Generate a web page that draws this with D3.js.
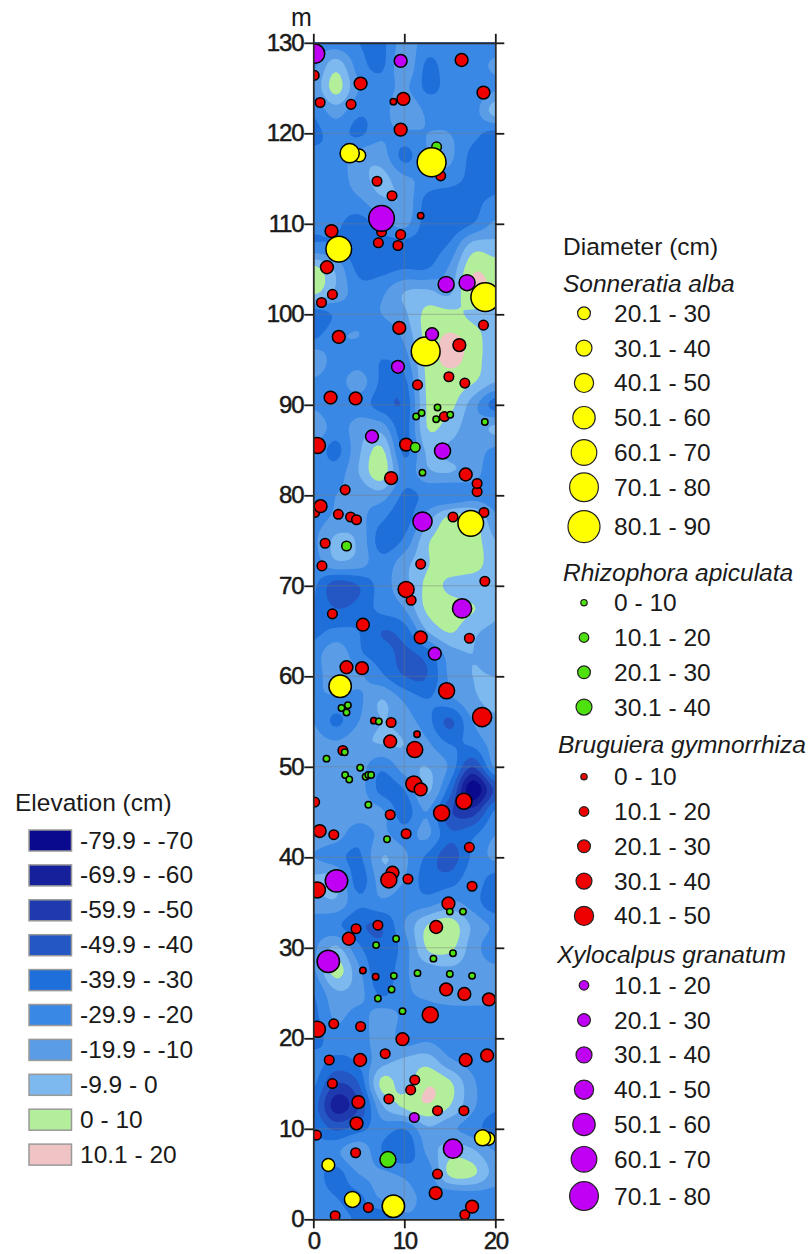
<!DOCTYPE html>
<html>
<head>
<meta charset="utf-8">
<script src="https://cdn.jsdelivr.net/npm/d3@7"></script>
<style>
  html, body { margin: 0; background: #fff; }
  text { font-family: "Liberation Sans", Arial, sans-serif; fill: #1a1a1a; }
</style>
</head>
<body>
<div id="chart"></div>
<script>
// elevation (cm): rows run from y=130 down to y=0 every 2.5 m,
// columns from x=0 to x=20 every 2.5 m
const elevationRows = [
  [-25,-25,-30,-33,-15,-25,-25,-25,-25],
  [-22, -4,-25,-32,-12,-32,-25,-25,-18],
  [-18,  4,-20,-25,-18,-32,-27,-28,-22],
  [-28,-15,-28,-25,-12,-22,-25,-25, -5],
  [-33,-26,-32,-22,-22,-20,-20,-27,-33],
  [-27,-27,-15,-15,-33,-20,-18,-33,-33],
  [-25,-25,-15, -7,-18,-22,-25,-33,-33],
  [-25,-25,-22,-12,-12,-34,-38,-33,-28],
  [-28,-28,-35,-25,-17,-35,-37,-30,-18],
  [-28,-30,-38,-35,-35,-34,-28, -5, -6],
  [  4,-12,-33,-33,-30,-30,-18,  8,  5],
  [  4,-12,-25,-22,-10, -8,-12, 12,  6],
  [-38,-28,-22,-20,-12,  3,  3, -2, -5],
  [-32,-22,-20,-27,-18,  4, 11,  6, -8],
  [-12,-25,-25,-30,-25,  3, 12,  6, -8],
  [-22,-25,-15,-32,-33,  2,  6,  1,-10],
  [-22,-30,-25,-35,-38,  1,  3,-15,-35],
  [-10,-25,-15,-15,-35,  0, -5,-15, -8],
  [-22,-33,-12,  2,-33, -8,-12,-15,-22],
  [-22,-25,-10,  6,-25,-12,-10,-15,-28],
  [-30,-20,-18,-15,-32,-28,-30,-25,-26],
  [-25,-18,-17,-28,-35,-15,  3,  3,-18],
  [-22, -8,-12,-35,-28, -2,  5,  6,-10],
  [-25,-12,-15,-26,-14, -1,  5,  6, -7],
  [-28,-46,-40,-25,-14,  2, -2, -7, -7],
  [-30,-40,-36,-27,-20,  2,  4,  1, -8],
  [-33,-28,-30,-40,-35,-10,  1, -8,-12],
  [-25,-13,-28,-35,-42,-35,-15,-10,-16],
  [-25,-13,-18,-28,-40,-40,-18,-10,-10],
  [-20,-22,-22,-10,-22,-30,-22,-12, -7],
  [-20,-32,-20,-10,-15,-26,-42,-20,-12],
  [-15,-18,-12,-10,-10,-18,-30,-28,-15],
  [-15,-13,-15,-28,-15,-10,-22,-50,-18],
  [-15,-12,-15,-33,-30, -8,-35,-78,-48],
  [-15,-14,-15,-18,-35,-20,-48,-55,-28],
  [-15,-16,-26,-18,-25,-18,-38,-32,-20],
  [-20,-26,-32,-10,-18,-32,-45,-28,-18],
  [ -8, -8,-35,-15,-20,-35,-35,-25,-35],
  [-15,-12,-28,-22,-25,-25,-18,-25,-38],
  [-24,-28,-38,-40,-20,  0,  6,-12,-22],
  [-22, -8,-28,-38,-25,  1,  3,-15,-26],
  [-22,  4,-18,-38,-22,-15,-12,-15,-18],
  [-30,-12,-16,-32,-22,-18,-14,-15,-16],
  [-33,-18,-24,-15,-22,-24,-25,-24,-24],
  [-35,-24,-28,-12,-25,-22,-27,-26,-26],
  [-25,-33,-28,-14, -8, -4,-18,-24,-26],
  [-28,-50,-40,  3, -5,  9,  2,-18,-26],
  [-35,-65,-50,-12,  2,  9,  0,-18,-28],
  [-30,-42,-34,-25,-30,-12,-18,-25,-36],
  [-28,-22,-12,-30,-38,-18, -4, -8,-20],
  [-25,-34,-20,-18,-22,-26,  2,  2,-14],
  [-25,-30,-32,-18,-16,-24,-28,-26,-25],
  [-24,-26,-32,-38,-22,-24,-26,-25,-25],
];

const elevationLow = [-80, -70, -60, -50, -40, -30, -20, -10, 0, 10];
const elevationLabels = ['-79.9 - -70', '-69.9 - -60', '-59.9 - -50', '-49.9 - -40', '-39.9 - -30',
  '-29.9 - -20', '-19.9 - -10', '-9.9 - 0', '0 - 10', '10.1 - 20'];
const elevationColors = ['#0a0a8f', '#16209b', '#1f3aae', '#2557c4', '#1f6fdb',
  '#3a88e6', '#5a9de6', '#7db8ee', '#b3ee9b', '#f0c4c4'];

// trees: [x (m), y (m), diameter class midpoint (cm)]
const bruguiera = [
  [16.3,128.1,25],[0.1,126.4,15],[5.2,125.5,25],[0.75,123.4,15],[4.15,123.2,15],[8.8,123.5,5],[9.9,123.8,25],
  [18.7,124.5,25],[9.6,120.4,25],[14.0,115.3,15],[7.0,114.7,15],[8.65,113.1,15],[11.8,110.9,5],[2.0,109.2,25],
  [7.5,109.1,15],[9.6,108.8,15],[7.15,107.9,15],[9.3,107.6,15],[1.5,105.2,25],[2.1,102.2,15],[0.9,101.3,15],
  [9.45,98.5,25],[2.8,97.5,25],[18.7,98.8,15],[16.05,96.6,25],[14.9,93.1,15],[11.45,92.2,15],[16.65,92.4,15],
  [1.9,90.8,25],[4.65,90.7,25],[14.4,88.7,15],[0.45,85.5,35],[10.2,85.6,25],[16.75,82.3,25],[18.0,80.4,15],
  [18.0,81.3,15],[8.55,81.9,25],[3.5,80.6,15],[0.15,78.1,15],[0.8,78.8,25],[2.75,77.9,15],[4.1,77.6,15],
  [4.75,77.3,15],[15.35,77.6,15],[18.75,78.1,15],[1.3,74.7,15],[0.95,72.2,15],[11.8,72.4,15],[18.85,70.5,15],
  [10.75,68.4,15],[10.2,69.6,35],[2.1,66.9,15],[5.45,65.7,25],[11.8,64.3,25],[17.15,64.2,15],[3.65,61.0,25],
  [5.35,60.9,25],[14.65,58.4,35],[18.55,55.5,45],[6.65,55.1,5],[8.55,54.9,15],[11.4,53.6,5],[8.45,52.8,25],
  [11.15,51.9,35],[3.25,51.8,15],[11.05,48.1,35],[11.8,47.5,25],[16.55,46.2,35],[0.15,46.1,15],[8.45,44.7,15],
  [14.1,44.9,35],[0.7,42.9,25],[2.25,42.5,15],[10.2,42.6,15],[17.15,41.1,15],[8.7,38.3,25],[8.3,37.5,35],
  [10.4,37.6,15],[0.45,36.4,35],[17.45,36.8,15],[14.85,34.9,25],[13.5,32.3,25],[7.1,32.5,15],[4.7,32.1,15],
  [3.9,31.0,25],[5.45,27.5,5],[6.85,26.8,5],[14.6,25.4,25],[16.6,24.9,25],[19.3,24.3,25],[12.85,22.6,35],
  [0.45,21.0,35],[2.25,21.6,15],[5.2,21.3,15],[9.8,19.9,25],[7.9,18.3,15],[1.75,17.6,15],[5.15,17.6,25],
  [16.75,17.6,25],[19.1,18.1,25],[2.1,15.0,15],[11.15,15.4,15],[10.7,14.3,15],[4.95,12.95,25],[8.3,13.3,15],
  [13.65,12.0,15],[16.55,12.0,15],[4.75,10.6,25],[0.35,9.3,15],[4.65,7.35,15],[13.65,5.0,15],[13.45,2.9,25],
  [6.05,1.3,15],[16.65,0.5,15],[17.45,1.4,25],[2.4,0.4,15],
];
const rhizophora = [
  [13.55,118.5,15],[11.2,85.3,15],[12,82.5,5],[18.85,88.1,5],[11.3,88.7,5],[11.9,89.1,5],[13.65,89.7,5],
  [13.5,88.4,5],[15.05,88.9,5],[3.65,74.4,15],[3.8,56.8,5],[3.1,56.5,5],[3.65,56.0,5],[7.2,55.0,5],[3.45,51.6,5],
  [1.45,50.9,5],[5.15,49.9,5],[3.5,49.1,5],[3.95,48.6,5],[5.75,48.9,5],[6.05,49.1,5],[6.35,49.1,5],[6.05,45.8,5],
  [8.1,42.0,5],[15,34,5],[16.45,34,5],[9.1,31,5],[6.9,30.3,5],[15.35,29.4,5],[13.2,28.8,5],[8.85,26.9,5],
  [11.45,27.2,5],[15.0,27.1,5],[17.45,26.9,5],[8.6,25.4,5],[7.1,24.4,5],[9.8,23.0,5],[8.2,6.6,35],
];
const xylocalpus = [
  [0.2,128.8,45],[9.6,128,25],[7.5,110.6,65],[14.6,103.3,35],[16.9,103.5,35],[9.3,94.2,25],[6.45,86.5,25],
  [14.2,84.9,35],[12.0,77.1,45],[16.35,67.5,45],[13.35,62.5,25],[2.55,37.4,55],[1.65,28.5,55],[11.1,11.25,15],
  [15.35,7.8,45],
];
const sonneratia = [
  [5.05,117.55,25],[4.0,117.8,45],[13.0,116.8,75],[2.8,107.2,65],[18.9,101.9,75],[12.35,95.9,75],[17.3,76.9,65],
  [2.95,58.9,55],[19.25,8.9,25],[18.6,9.0,35],[1.65,6.0,25],[4.3,2.2,35],[8.8,1.45,55],
];
// this one sits on top of the big yellow tree next to it
const xylocalpusOnTop = [[13.05,97.8,25]];

const sonneratiaClasses = ['20.1 - 30', '30.1 - 40', '40.1 - 50', '50.1 - 60', '60.1 - 70', '70.1 - 80', '80.1 - 90'];
const rhizophoraClasses = ['0 - 10', '10.1 - 20', '20.1 - 30', '30.1 - 40'];
const bruguieraClasses = ['0 - 10', '10.1 - 20', '20.1 - 30', '30.1 - 40', '40.1 - 50'];
const xylocalpusClasses = ['10.1 - 20', '20.1 - 30', '30.1 - 40', '40.1 - 50', '50.1 - 60', '60.1 - 70', '70.1 - 80'];

const yellow = '#ffff00';
const green = '#4fe010';
const red = '#ee0000';
const purple = '#c000f5';

const width = 811;
const height = 1254;
const x = d3.scaleLinear().domain([0, 20]).range([313.3, 495.3]);
const y = d3.scaleLinear().domain([0, 130]).range([1219.3, 42.8]);
const r = d3.scaleLinear().domain([5, 85]).range([3.2, 16]);

const svg = d3.select('#chart').append('svg')
  .attr('width', width)
  .attr('height', height)
  .style('display', 'block');

svg.append('clipPath').attr('id', 'plot-clip')
  .append('rect')
  .attr('x', x(0)).attr('y', y(130))
  .attr('width', x(20) - x(0)).attr('height', y(0) - y(130));

// catmull-rom upsampling so the contours come out round instead of blocky
function cubic(a, b, c, d, t) {
  return 0.5 * (2 * b + (c - a) * t + (2 * a - 5 * b + 4 * c - d) * t * t + (3 * b - a - 3 * c + d) * t * t * t);
}
function upsample(rows, k) {
  const nr = rows.length, nc = rows[0].length;
  const w = (nc - 1) * k + 1, h = (nr - 1) * k + 1;
  const at = (i, j) => rows[Math.max(0, Math.min(nr - 1, i))][Math.max(0, Math.min(nc - 1, j))];
  const out = new Float64Array(w * h);
  for (let py = 0; py < h; py++) {
    const i = Math.min(Math.floor(py / k), nr - 2), ty = py / k - i;
    for (let px = 0; px < w; px++) {
      const j = Math.min(Math.floor(px / k), nc - 2), tx = px / k - j;
      const col = [-1, 0, 1, 2].map((di) =>
        cubic(at(i + di, j - 1), at(i + di, j), at(i + di, j + 1), at(i + di, j + 2), tx));
      out[py * w + px] = cubic(col[0], col[1], col[2], col[3], ty);
    }
  }
  return { values: out, w, h };
}

const k = 6;
const grid = upsample(elevationRows, k);
const stepX = 2.5 / k;
const stepY = 2.5 / k;
const contours = d3.contours()
  .size([grid.w, grid.h])
  .thresholds(elevationLow)(grid.values);

const project = d3.geoTransform({
  point(px, py) {
    this.stream.point(x((px - 0.5) * stepX), y(130 - (py - 0.5) * stepY));
  },
});
const path = d3.geoPath(project);

const plot = svg.append('g').attr('clip-path', 'url(#plot-clip)');

// lowest band first so it acts as the background
plot.append('rect')
  .attr('x', x(0)).attr('y', y(130))
  .attr('width', x(20) - x(0)).attr('height', y(0) - y(130))
  .attr('fill', elevationColors[0]);
plot.selectAll('path.band')
  .data(contours)
  .join('path')
  .attr('class', 'band')
  .attr('d', path)
  .attr('fill', (d, i) => elevationColors[i]);

// faint grid
plot.selectAll('line.gy')
  .data(d3.range(0, 131, 10))
  .join('line')
  .attr('class', 'gy')
  .attr('x1', x(0)).attr('x2', x(20))
  .attr('y1', (d) => y(d)).attr('y2', (d) => y(d))
  .attr('stroke', '#777').attr('stroke-opacity', 0.45).attr('stroke-width', 1);
plot.selectAll('line.gx')
  .data([10])
  .join('line')
  .attr('class', 'gx')
  .attr('y1', y(0)).attr('y2', y(130))
  .attr('x1', (d) => x(d)).attr('x2', (d) => x(d))
  .attr('stroke', '#777').attr('stroke-opacity', 0.45).attr('stroke-width', 1);

function addTrees(list, color) {
  plot.append('g')
    .selectAll('circle')
    .data(list)
    .join('circle')
    .attr('cx', (d) => x(d[0]))
    .attr('cy', (d) => y(d[1]))
    .attr('r', (d) => r(d[2]))
    .attr('fill', color)
    .attr('stroke', '#000')
    .attr('stroke-width', 1.5);
}
addTrees(bruguiera, red);
addTrees(rhizophora, green);
addTrees(xylocalpus, purple);
addTrees(sonneratia, yellow);
addTrees(xylocalpusOnTop, purple);

// axes, ticks point outwards on all four sides
const tickLen = 9;
const yTicks = d3.range(0, 131, 10);
const xTicks = [0, 10, 20];
const axisStyle = (g) => {
  g.select('.domain').attr('stroke', '#2b2b2b').attr('stroke-width', 1.8);
  g.selectAll('.tick line').attr('stroke', '#1a1a1a').attr('stroke-width', 1.8);
};
const tickFont = (g) => {
  g.selectAll('text')
    .attr('font-size', 24)
    .attr('letter-spacing', -1.2)
    .style('font-family', '"Liberation Sans", Arial, sans-serif')
    .style('stroke', '#1a1a1a')
    .style('stroke-width', 0.5);
};

svg.append('g')
  .attr('transform', `translate(${x(0)},0)`)
  .call(d3.axisLeft(y).tickValues(yTicks).tickSize(tickLen).tickSizeOuter(0).tickPadding(1))
  .call(axisStyle).call(tickFont);
svg.append('g')
  .attr('transform', `translate(${x(20)},0)`)
  .call(d3.axisRight(y).tickValues(yTicks).tickSize(tickLen).tickSizeOuter(0).tickFormat(''))
  .call(axisStyle);
svg.append('g')
  .attr('transform', `translate(0,${y(0)})`)
  .call(d3.axisBottom(x).tickValues(xTicks).tickSize(tickLen).tickSizeOuter(0).tickPadding(4))
  .call(axisStyle).call(tickFont);
svg.append('g')
  .attr('transform', `translate(0,${y(130)})`)
  .call(d3.axisTop(x).tickValues(xTicks).tickSize(tickLen).tickSizeOuter(0).tickFormat(''))
  .call(axisStyle);

svg.append('text')
  .attr('x', 291).attr('y', 26)
  .attr('font-size', 25)
  .text('m');

// elevation legend
const legendFont = 24.5;
const elevLegend = svg.append('g');
elevLegend.append('text')
  .attr('x', 15).attr('y', 811)
  .attr('font-size', legendFont)
  .text('Elevation (cm)');
const elevRow = elevLegend.selectAll('g')
  .data(elevationLabels)
  .join('g')
  .attr('transform', (d, i) => `translate(0,${830 + i * 34.9})`);
elevRow.append('rect')
  .attr('x', 29).attr('width', 42.5).attr('height', 21)
  .attr('fill', (d, i) => elevationColors[i])
  .attr('stroke', '#999').attr('stroke-width', 1.5);
elevRow.append('text')
  .attr('x', 80).attr('y', 18.5)
  .attr('font-size', legendFont)
  .text((d) => d);

// diameter legend
svg.append('text')
  .attr('x', 563).attr('y', 255)
  .attr('font-size', legendFont)
  .text('Diameter (cm)');

function speciesLegend(name, nameX, nameY, firstY, classes, color, lastGap) {
  svg.append('text')
    .attr('x', nameX).attr('y', nameY)
    .attr('font-size', legendFont)
    .attr('font-style', 'italic')
    .text(name);
  const rows = svg.append('g').selectAll('g')
    .data(classes)
    .join('g')
    .attr('transform', (d, i) => `translate(584,${firstY + i * 34.8 + (i === classes.length - 1 ? lastGap : 0)})`);
  rows.append('circle')
    .attr('r', (d) => r(+d.split(' - ')[1] - 5))
    .attr('fill', color)
    .attr('stroke', '#222')
    .attr('stroke-width', 1.2);
  rows.append('text')
    .attr('x', 30).attr('y', 8.5)
    .attr('font-size', legendFont)
    .text((d) => d);
}
speciesLegend('Sonneratia alba', 563, 292, 313.3, sonneratiaClasses, yellow, 4.5);
speciesLegend('Rhizophora apiculata', 563, 581, 602.7, rhizophoraClasses, green, 0);
speciesLegend('Bruguiera gymnorrhiza', 558, 753, 776.7, bruguieraClasses, red, 0);
speciesLegend('Xylocalpus granatum', 557, 963, 985.3, xylocalpusClasses, purple, 2);
</script>
</body>
</html>
